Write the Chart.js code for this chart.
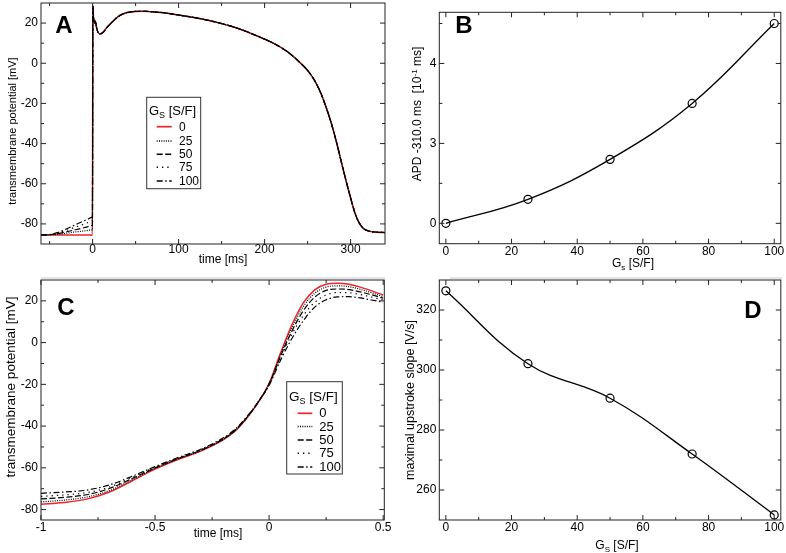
<!DOCTYPE html>
<html><head><meta charset="utf-8">
<script src="https://cdn.jsdelivr.net/npm/chart.js@4/dist/chart.umd.min.js"></script>
<style>
html,body{margin:0;padding:0;background:#fff;width:786px;height:553px;overflow:hidden}
canvas{position:absolute;left:0;top:0}
.sep{position:absolute;height:2px;background:#e4e4e4}
</style></head><body>
<div class="sep" style="left:41px;top:277px;width:344px"></div>
<div class="sep" style="left:450px;top:277px;width:332px"></div>
<canvas id="cA" width="786" height="553"></canvas>
<canvas id="cB" width="786" height="553"></canvas>
<canvas id="cC" width="786" height="553"></canvas>
<canvas id="cD" width="786" height="553"></canvas>
<script>
// ---------------- data ----------------
const seriesLabels = ['0', '25', '50', '75', '100'];

// Panel A: full action potential
const tPreA = [-60, -50, -40, -30, -20, -10, -5, -1, -0.2];
const vPreA_0   = [-85.5, -85.5, -85.5, -85.5, -85.5, -85.5, -85.5, -85.6, -85.6];
const vPreA_25  = [-85.5, -85.45, -85.1, -84.6, -84.0, -83.5, -83.2, -83.0, -82.9];
const vPreA_50  = [-85.5, -85.4, -84.8, -83.9, -82.9, -81.9, -81.3, -80.8, -80.7];
const vPreA_75  = [-85.5, -85.35, -84.5, -83.1, -81.6, -80.1, -79.2, -78.4, -78.2];
const vPreA_100 = [-85.5, -85.3, -84.2, -82.4, -80.4, -78.5, -77.5, -76.7, -76.5];
const tPostA = [0.3, 1, 2, 3, 5, 8, 12, 16, 22, 30, 38, 50, 60, 70, 85, 100, 120, 145, 170, 200, 210, 220, 230, 240, 250, 258, 265, 272, 278, 284, 290, 295, 300, 305, 310, 315, 320, 330, 340];
const vPostA = [28.5, 23, 20, 21, 17, 14.6, 15.3, 17.5, 20.2, 23.3, 25, 25.8, 25.9, 25.6, 25.0, 24.0, 22.6, 20.3, 17.2, 12, 10, 7.6, 4.6, 0.8, -3.6, -8.5, -14.5, -22.5, -30.5, -40, -50.5, -59, -67, -74.5, -79.5, -82.3, -83.4, -84.1, -84.3];

// Panel C: upstroke detail
const tC = [-1, -0.9, -0.8, -0.7, -0.6, -0.5, -0.4, -0.3, -0.2, -0.15, -0.1, -0.05, 0, 0.05, 0.1, 0.15, 0.2, 0.25, 0.3, 0.35, 0.4, 0.45, 0.5];
const vC_0   = [-77.5, -76.6, -75.0, -71.6, -66.2, -60.6, -56.0, -52.0, -46.5, -42.5, -36.5, -29.0, -19.5, -5.0, 8.5, 19.0, 25.3, 28.0, 28.5, 28.0, 26.6, 24.8, 22.8];
const vC_25  = [-76.3, -75.5, -74.0, -70.9, -65.7, -60.3, -55.8, -51.8, -46.3, -42.3, -36.4, -28.9, -19.7, -5.8, 7.0, 17.3, 23.6, 26.6, 27.2, 26.8, 25.5, 23.9, 22.0];
const vC_50  = [-74.9, -74.2, -72.9, -69.9, -65.1, -60.0, -55.6, -51.6, -46.1, -42.1, -36.2, -28.9, -19.9, -6.6, 5.5, 15.3, 21.8, 25.0, 25.7, 25.4, 24.3, 22.9, 21.3];
const vC_75  = [-73.7, -73.0, -71.9, -69.2, -64.6, -59.7, -55.4, -51.4, -45.9, -41.9, -36.0, -28.8, -20.2, -7.5, 4.0, 13.0, 19.3, 22.8, 24.0, 23.9, 23.0, 21.8, 20.4];
const vC_100 = [-72.2, -71.6, -70.7, -68.2, -64.0, -59.4, -55.1, -51.1, -45.6, -41.6, -35.8, -28.7, -20.5, -8.5, 2.0, 10.5, 17.0, 20.5, 21.9, 22.0, 21.4, 20.4, 19.4];

// Panels B and D
const gs = [0, 25, 50, 75, 100];
const apdB = [0, 0.6, 1.6, 3.0, 5.0];
const slopeD = [326.4, 302.1, 290.6, 272.0, 251.7];

// tick values / labels
const xTicksA = [0, 100, 200, 300], xLabelsA = ['0', '100', '200', '300'], xMinorA = [-50, 50, 150, 250];
const yTicksA = [-80, -60, -40, -20, 0, 20], yLabelsA = ['-80', '-60', '-40', '-20', '0', '20'], yMinorA = [-70, -50, -30, -10, 10];
const xTicksB = [0, 20, 40, 60, 80, 100], xLabelsB = ['0', '20', '40', '60', '80', '100'], xMinorB = [10, 30, 50, 70, 90];
const yTicksB = [0, 2, 4], yLabelsB = ['0', '3', '4'], yMinorB = [1, 3, 5];
const xTicksC = [-1, -0.5, 0, 0.5], xLabelsC = ['-1', '-0.5', '0', '0.5'], xMinorC = [-0.75, -0.25, 0.25];
const yTicksC = yTicksA, yLabelsC = yLabelsA, yMinorC = yMinorA;
const yTicksD = [260, 280, 300, 320], yLabelsD = ['260', '280', '300', '320'], yMinorD = [270, 290, 310];

// ---------------- styles ----------------
const FONT = '"Liberation Sans", Arial, Helvetica, sans-serif';
Chart.defaults.font.family = FONT;
const styles = [
  {color: '#e8262b', dash: [], width: 1.5},
  {color: '#000', dash: [1, 1.3], width: 1.2},
  {color: '#000', dash: [6, 2.5], width: 1.2},
  {color: '#000', dash: [1.3, 4], width: 1.2},
  {color: '#000', dash: [6, 2.5, 1.5, 2.5], width: 1.2}
];
const W = 786, H = 553, YW = 40, XH = 20;

function drawRich(ctx, segs, x, y, size, rot, align) {
  ctx.save();
  ctx.translate(x, y);
  if (rot) ctx.rotate(-Math.PI / 2);
  const f = s => `${(s.sub || s.sup) ? Math.round(size * 0.68) : size}px ${FONT}`;
  let w = 0;
  segs.forEach(s => { ctx.font = f(s); w += ctx.measureText(s.t).width; });
  let cx = align === 'left' ? 0 : -w / 2;
  ctx.textAlign = 'left'; ctx.textBaseline = 'alphabetic'; ctx.fillStyle = '#000';
  const base = size * 0.36;
  segs.forEach(s => {
    ctx.font = f(s);
    const dy = s.sub ? size * 0.22 : (s.sup ? -size * 0.38 : 0);
    ctx.fillText(s.t, cx, base + dy);
    cx += ctx.measureText(s.t).width;
  });
  ctx.restore();
}

function drawLegend(ctx, L) {
  ctx.save();
  ctx.fillStyle = '#fff'; ctx.strokeStyle = '#333'; ctx.lineWidth = 1; ctx.setLineDash([]);
  const [x1, y1, x2, y2] = L.box;
  ctx.fillRect(x1, y1, x2 - x1, y2 - y1);
  ctx.strokeRect(x1, y1, x2 - x1, y2 - y1);
  drawRich(ctx, [{t: 'G'}, {t: 'S', sub: true}, {t: ' [S/F]'}], L.titleX, L.titleY, L.titleSize, false, 'left');
  L.rows.forEach((ry, i) => {
    const s = styles[i];
    ctx.strokeStyle = s.color; ctx.lineWidth = s.width + 0.2; ctx.setLineDash(s.dash);
    ctx.beginPath(); ctx.moveTo(L.lineX[0], ry); ctx.lineTo(L.lineX[1], ry); ctx.stroke();
    ctx.setLineDash([]);
    ctx.fillStyle = '#000'; ctx.font = `${L.size}px ${FONT}`; ctx.textAlign = 'left'; ctx.textBaseline = 'middle';
    ctx.fillText(seriesLabels[i], L.textX, ry + 0.5);
  });
  ctx.restore();
}

function makeDecor(o) {
  return {
    id: 'decor',
    afterDraw(chart) {
      const ctx = chart.ctx, a = chart.chartArea, xs = chart.scales.x, ys = chart.scales.y;
      ctx.save();
      ctx.strokeStyle = '#222'; ctx.lineWidth = 1; ctx.setLineDash([]);
      const L = (x1, y1, x2, y2) => { ctx.beginPath(); ctx.moveTo(x1, y1); ctx.lineTo(x2, y2); ctx.stroke(); };
      const tx = (vals, len) => vals.forEach(v => { const p = xs.getPixelForValue(v); L(p, a.bottom, p, a.bottom - len); L(p, a.top, p, a.top + len); });
      const ty = (vals, len) => vals.forEach(v => { const p = ys.getPixelForValue(v); L(a.left, p, a.left + len, p); L(a.right, p, a.right - len, p); });
      tx(o.xMajor, 5); tx(o.xMinor, 3); ty(o.yMajor, 5); ty(o.yMinor, 3);
      ctx.strokeRect(a.left, a.top, a.right - a.left, a.bottom - a.top);
      ctx.fillStyle = '#000'; ctx.font = `bold 24px ${FONT}`; ctx.textAlign = 'center'; ctx.textBaseline = 'middle';
      ctx.fillText(o.letter[0], o.letter[1], o.letter[2]);
      o.titles.forEach(t => drawRich(ctx, t.segs, t.x, t.y, t.size, t.rot, 'center'));
      if (o.legend) drawLegend(ctx, o.legend);
      ctx.restore();
    }
  };
}

function makeChart(id, p) {
  const area = p.area;
  const lab = (vals, labels) => v => { const i = vals.indexOf(v); return i >= 0 ? labels[i] : ''; };
  const zeroPad = s => { s.paddingLeft = 0; s.paddingRight = 0; s.paddingTop = 0; s.paddingBottom = 0; };
  return new Chart(document.getElementById(id), {
    type: 'scatter',
    data: {datasets: p.datasets},
    options: {
      responsive: false, animation: false, devicePixelRatio: 1,
      events: [],
      layout: {padding: {left: area.l - YW, right: W - area.r, top: area.t, bottom: H - area.b - XH}},
      plugins: {legend: {display: false}, tooltip: {enabled: false}},
      scales: {
        x: {
          type: 'linear', position: 'bottom', min: p.x[0], max: p.x[1],
          afterBuildTicks: s => { s.ticks = p.xTicks.map(v => ({value: v})); },
          afterFit: s => { s.height = XH; zeroPad(s); },
          grid: {display: false, drawTicks: false}, border: {display: false},
          ticks: {autoSkip: false, maxRotation: 0, color: '#000', padding: p.xPad,
                  font: {size: 12, lineHeight: 1}, callback: lab(p.xTicks, p.xLabels)}
        },
        y: {
          type: 'linear', position: 'left', min: p.y[0], max: p.y[1],
          afterBuildTicks: s => { s.ticks = p.yTicks.map(v => ({value: v})); },
          afterFit: s => { s.width = YW; zeroPad(s); },
          grid: {display: false, drawTicks: false}, border: {display: false},
          ticks: {autoSkip: false, color: '#000', padding: 3,
                  font: {size: 12, lineHeight: 1}, callback: lab(p.yTicks, p.yLabels)}
        }
      }
    },
    plugins: [makeDecor(p.decor)]
  });
}

function lineSet(xs, ys, i) {
  const s = styles[i];
  return {
    data: xs.map((x, k) => ({x: x, y: ys[k]})),
    showLine: true, pointRadius: 0, borderColor: s.color, borderWidth: s.width,
    borderDash: s.dash, tension: 0.4, cubicInterpolationMode: 'monotone', fill: false,
    order: i === 0 ? 10 : i   // red drawn first (underneath), black on top
  };
}

// ---- Panel A ----
const preA = [vPreA_0, vPreA_25, vPreA_50, vPreA_75, vPreA_100];
makeChart('cA', {
  area: {l: 41, r: 385, t: 3, b: 244},
  x: [-60, 340], y: [-90, 30],
  xTicks: xTicksA, xLabels: xLabelsA, yTicks: yTicksA, yLabels: yLabelsA, xPad: 0,
  datasets: preA.map((v, i) => lineSet(tPreA.concat(tPostA), v.concat(vPostA), i)),
  decor: {
    xMajor: xTicksA, xMinor: xMinorA, yMajor: yTicksA, yMinor: yMinorA,
    letter: ['A', 64, 26],
    titles: [
      {segs: [{t: 'time [ms]'}], x: 223, y: 259, size: 12},
      {segs: [{t: 'transmembrane potential [mV]'}], x: 12, y: 131, size: 11, rot: true}
    ],
    legend: {box: [146.7, 97.3, 200.7, 188.7], titleX: 149, titleY: 110, titleSize: 13,
             rows: [126.7, 141, 154.3, 167.3, 181], lineX: [156.7, 171.7], textX: 179, size: 12}
  }
});

// ---- Panel B ----
makeChart('cB', {
  area: {l: 439.3, r: 781.7, t: 12.3, b: 243.7},
  x: [-2, 102], y: [-0.51, 5.28],
  xTicks: xTicksB, xLabels: xLabelsB, yTicks: yTicksB, yLabels: yLabelsB, xPad: 2.3,
  datasets: [{
    data: gs.map((g, k) => ({x: g, y: apdB[k]})), showLine: true, tension: 0.4,
    borderColor: '#000', borderWidth: 1.3, pointRadius: 4, pointBorderWidth: 1.2,
    pointBorderColor: '#000', pointBackgroundColor: 'rgba(255,255,255,0)', clip: false
  }],
  decor: {
    xMajor: xTicksB, xMinor: xMinorB, yMajor: yTicksB, yMinor: yMinorB,
    letter: ['B', 464, 26],
    titles: [
      {segs: [{t: 'G'}, {t: 's', sub: true}, {t: ' [S/F]'}], x: 633, y: 263, size: 12},
      {segs: [{t: 'APD -310.0 ms  [10'}, {t: '-1', sup: true}, {t: ' ms]'}], x: 417, y: 114, size: 12, rot: true}
    ]
  }
});

// ---- Panel C ----
const vCs = [vC_0, vC_25, vC_50, vC_75, vC_100];
makeChart('cC', {
  area: {l: 41, r: 384.3, t: 280, b: 520},
  x: [-1, 0.505], y: [-85, 30],
  xTicks: xTicksC, xLabels: xLabelsC, yTicks: yTicksC, yLabels: yLabelsC, xPad: 2,
  datasets: vCs.map((v, i) => lineSet(tC, v, i)),
  decor: {
    xMajor: xTicksC, xMinor: xMinorC, yMajor: yTicksC, yMinor: yMinorC,
    letter: ['C', 66, 308],
    titles: [
      {segs: [{t: 'time [ms]'}], x: 218, y: 533, size: 12},
      {segs: [{t: 'transmembrane potential [mV]'}], x: 10, y: 387, size: 13.5, rot: true}
    ],
    legend: {box: [286.7, 381.7, 342.3, 474], titleX: 289, titleY: 396, titleSize: 13.5,
             rows: [413.3, 426.5, 440, 453.3, 467], lineX: [297.7, 312.3], textX: 319.3, size: 13}
  }
});

// ---- Panel D ----
makeChart('cD', {
  area: {l: 439.3, r: 782.3, t: 280, b: 520},
  x: [-2, 102], y: [250, 330],
  xTicks: xTicksB, xLabels: xLabelsB, yTicks: yTicksD, yLabels: yLabelsD, xPad: 2,
  datasets: [{
    data: gs.map((g, k) => ({x: g, y: slopeD[k]})), showLine: true, tension: 0.4,
    borderColor: '#000', borderWidth: 1.3, pointRadius: 4, pointBorderWidth: 1.2,
    pointBorderColor: '#000', pointBackgroundColor: 'rgba(255,255,255,0)', clip: false
  }],
  decor: {
    xMajor: xTicksB, xMinor: xMinorB, yMajor: yTicksD, yMinor: yMinorD,
    letter: ['D', 753, 311],
    titles: [
      {segs: [{t: 'G'}, {t: 'S', sub: true}, {t: ' [S/F]'}], x: 617, y: 545, size: 12},
      {segs: [{t: 'maximal upstroke slope [V/s]'}], x: 409, y: 400, size: 12.5, rot: true}
    ]
  }
});
</script>
</body></html>
